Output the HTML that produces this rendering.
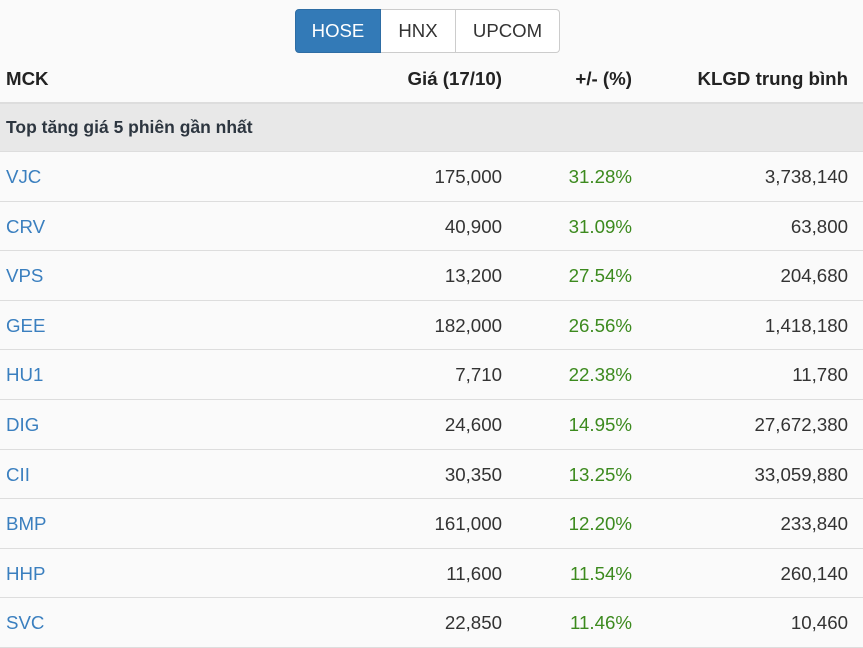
<!DOCTYPE html>
<html><head><meta charset="utf-8"><style>
body{margin:0;width:863px;height:637px;background:#fafafa;font-family:"Liberation Sans","DejaVu Sans",sans-serif;overflow:hidden;position:relative;color:#333}
.btns{position:absolute;left:295px;top:9px;height:44px;display:flex;font-size:18.6px}
.btns div{height:42px;line-height:42px;border:1px solid #ccc;background:#fff;padding:0;text-align:center;color:#333}
.b1{width:84px;background:#337ab7!important;border-color:#2e6da4!important;color:#fff!important;border-radius:4px 0 0 4px}
.b2{width:74px;border-left:none!important}
.b3{width:103px;border-left:none!important;border-radius:0 4px 4px 0}
.row{position:absolute;left:0;width:863px;font-size:18.7px}
.row span{position:absolute;top:0}
.c1{left:6px}.c2{right:361px}.c3{right:231px}.c4{right:15px}
.h{font-weight:bold;color:#222}
.line{position:absolute;left:0;width:863px;height:1px;background:#ddd}
.g{color:#3c8a1e}.s{color:#3a7fbf}
</style></head><body>
<div class="btns"><div class="b1">HOSE</div><div class="b2">HNX</div><div class="b3">UPCOM</div></div>
<div class="row h" style="top:68px"><span class="c1">MCK</span><span class="c2">Giá (17/10)</span><span class="c3">+/- (%)</span><span class="c4">KLGD trung bình</span></div>
<div class="line" style="top:102px;height:2px"></div>
<div style="position:absolute;top:104px;left:0;width:863px;height:47px;background:#e8e8e8"></div>
<div class="row h" style="top:117px;font-size:17.5px;color:#2d3640"><span class="c1">Top tăng giá 5 phiên gần nhất</span></div>
<div class="line" style="top:151px"></div>
<div id="rows"></div>
<script>
var d=[["VJC","175,000","31.28%","3,738,140"],["CRV","40,900","31.09%","63,800"],["VPS","13,200","27.54%","204,680"],["GEE","182,000","26.56%","1,418,180"],["HU1","7,710","22.38%","11,780"],["DIG","24,600","14.95%","27,672,380"],["CII","30,350","13.25%","33,059,880"],["BMP","161,000","12.20%","233,840"],["HHP","11,600","11.54%","260,140"],["SVC","22,850","11.46%","10,460"]];
var h="";d.forEach(function(r,i){var y=151+i*49.6;
h+='<div class="row" style="top:'+(y+15)+'px"><span class="c1 s">'+r[0]+'</span><span class="c2">'+r[1]+'</span><span class="c3 g">'+r[2]+'</span><span class="c4">'+r[3]+'</span></div>';
h+='<div class="line" style="top:'+Math.round(y+49.6)+'px"></div>';});
document.getElementById("rows").innerHTML=h;
</script>
</body></html>
